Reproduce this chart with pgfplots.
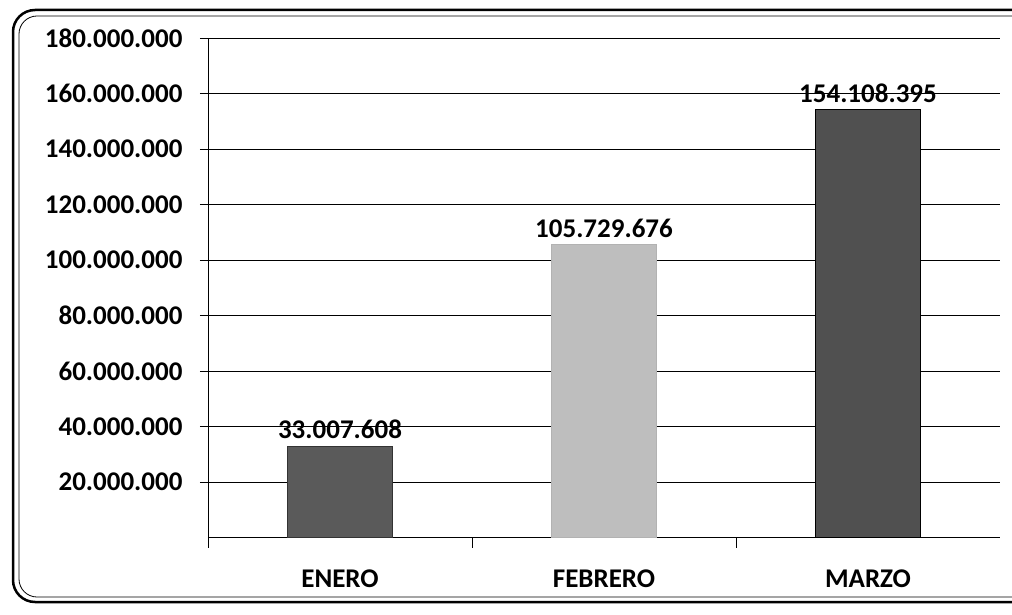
\documentclass[border=0pt]{standalone}
\usepackage{pgfplots}
\pgfplotsset{compat=1.18}
\usepackage{fontspec}
\setmainfont{Carlito}
\definecolor{barA}{HTML}{5A5A5A}
\definecolor{barB}{HTML}{BEBEBE}
\definecolor{barC}{HTML}{505050}
\begin{document}
\begin{tikzpicture}[x=1pt,y=1pt]
\path[use as bounding box] (0,0) rectangle (1012,614);
\clip (0,0) rectangle (1012,614);
\draw[line width=2.5pt, rounded corners=22pt] (13,12) rectangle (1040,604);
\draw[line width=0.8pt, rounded corners=18pt] (19,17) rectangle (1040,598);
\begin{axis}[
  at={(208pt,76.5pt)}, anchor=south west,
  scale only axis, width=792pt, height=499.5pt,
  xmin=-0.5, xmax=2.5, ymin=0, ymax=180000000,
  axis x line*=bottom, axis y line*=left,
  axis line style={-, black, line width=0.9pt},
  ybar, bar width=105pt, bar shift=0pt,
  scaled y ticks=false,
  ytick={20000000,40000000,60000000,80000000,100000000,120000000,140000000,160000000,180000000},
  yticklabels={20.000.000,40.000.000,60.000.000,80.000.000,100.000.000,120.000.000,140.000.000,160.000.000,180.000.000},
  ymajorgrids, grid style={black, line width=0.8pt},
  tick align=outside, major tick length=8pt,
  ytick style={black, line width=0.8pt},
  xtick={0,1,2}, xticklabels={ENERO,FEBRERO,MARZO},
  x tick style={draw=none},
  minor xtick={-0.5,0.5,1.5},
  minor x tick style={draw=black, line width=0.8pt},
  minor tick length=10pt,
  yticklabel style={font=\fontsize{27}{30}\selectfont\bfseries, xshift=-14pt},
  xticklabel style={font=\fontsize{27}{30}\selectfont\bfseries, yshift=-21pt},
  nodes near coords, point meta=explicit symbolic,
  nodes near coords style={font=\fontsize{27}{30}\selectfont\bfseries, black, yshift=3pt},
  clip=false,
]
\addplot[fill=barA, draw=black!80, line width=0.8pt] coordinates {(0,33007608) [33.007.608]};
\addplot[fill=barB, draw=black!30, line width=0.6pt] coordinates {(1,105729676) [105.729.676]};
\addplot[fill=barC, draw=black, line width=1.2pt] coordinates {(2,154108395) [154.108.395]};
\end{axis}
\end{tikzpicture}
\end{document}
